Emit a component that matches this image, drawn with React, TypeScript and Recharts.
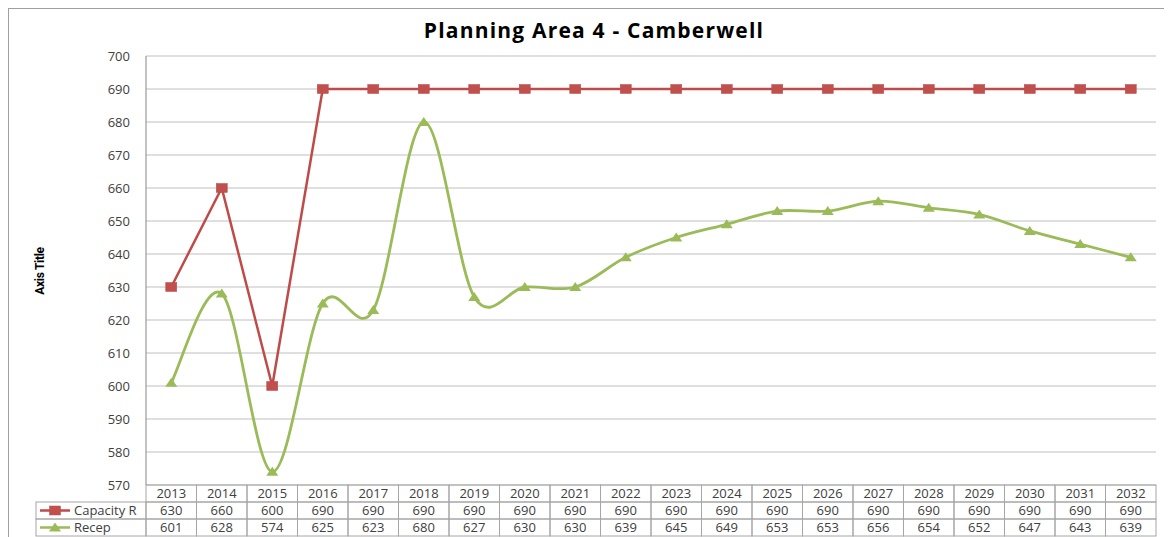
import React from 'react';
import { LineChart, Line, XAxis, YAxis, CartesianGrid } from 'recharts';

const years = ['2013', '2014', '2015', '2016', '2017', '2018', '2019', '2020', '2021', '2022', '2023', '2024', '2025', '2026', '2027', '2028', '2029', '2030', '2031', '2032'];
const capacity = [630, 660, 600, 690, 690, 690, 690, 690, 690, 690, 690, 690, 690, 690, 690, 690, 690, 690, 690, 690];
const recep = [601, 628, 574, 625, 623, 680, 627, 630, 630, 639, 645, 649, 653, 653, 656, 654, 652, 647, 643, 639];
const yTicks = [570, 580, 590, 600, 610, 620, 630, 640, 650, 660, 670, 680, 690, 700];
const seriesNames = ['Capacity R', 'Recep'];

const data = years.map((y, i) => ({ year: y, capacity: capacity[i], recep: recep[i] }));

const RED = '#BE4B48';
const RED_M = '#C0504D';
const GREEN = '#9BBB59';
const BORDER = '#A6A6A6';
const TEXT = '#404040';
const FONT = '"Open Sans", sans-serif';

const SVG_W = 1158;
const SVG_H = 530;
const MARGIN = { top: 47, right: 11, bottom: 3, left: 0 };
const Y_W = 137;
const PLOT_W = SVG_W - MARGIN.right - MARGIN.left - Y_W;
const BAND = PLOT_W / years.length;
const ROW_H = 17;
const LEG_W = 110;

// Excel-like smoothed line (uniform Catmull-Rom as cubic Bezier)
const excelCurve: any = (context: any) => {
  let pts: number[][] = [];
  return {
    areaStart() {},
    areaEnd() {},
    lineStart() {
      pts = [];
    },
    lineEnd() {
      const n = pts.length;
      if (!n) return;
      context.moveTo(pts[0][0], pts[0][1]);
      for (let i = 0; i < n - 1; i++) {
        const p0 = pts[Math.max(i - 1, 0)];
        const p1 = pts[i];
        const p2 = pts[i + 1];
        const p3 = pts[Math.min(i + 2, n - 1)];
        context.bezierCurveTo(
          p1[0] + (p2[0] - p0[0]) / 6,
          p1[1] + (p2[1] - p0[1]) / 6,
          p2[0] - (p3[0] - p1[0]) / 6,
          p2[1] - (p3[1] - p1[1]) / 6,
          p2[0],
          p2[1]
        );
      }
    },
    point(x: number, y: number) {
      pts.push([x, y]);
    },
  };
};

const Square = ({ cx, cy }: { cx: number; cy: number }) => (
  <rect x={cx - 5.5} y={cy - 4.5} width={11} height={9} fill={RED_M} stroke={RED} strokeWidth={0.5} />
);
const Triangle = ({ cx, cy }: { cx: number; cy: number }) => (
  <polygon points={`${cx},${cy - 5} ${cx + 6},${cy + 4} ${cx - 6},${cy + 4}`} fill={GREEN} />
);

const renderDotSquare = (p: any) => (p.cx == null ? null : <Square key={`s${p.index}`} cx={p.cx} cy={p.cy} />);
const renderDotTri = (p: any) => (p.cx == null ? null : <Triangle key={`t${p.index}`} cx={p.cx} cy={p.cy} />);

const renderTick = (props: any) => {
  const { x, y, index, payload } = props;
  const w = BAND;
  const left = x - w / 2;
  const i = index ?? payload.index;
  const textProps = { fontFamily: FONT, fontSize: 13, fill: TEXT, textAnchor: 'middle' as const };
  return (
    <g>
      <rect x={left} y={y} width={w} height={ROW_H} fill="none" stroke={BORDER} />
      <text x={x} y={y + 13} {...textProps}>{years[i]}</text>
      <rect x={left} y={y + ROW_H} width={w} height={ROW_H} fill="none" stroke={BORDER} />
      <text x={x} y={y + ROW_H + 13} {...textProps}>{capacity[i]}</text>
      <rect x={left} y={y + 2 * ROW_H} width={w} height={ROW_H} fill="none" stroke={BORDER} />
      <text x={x} y={y + 2 * ROW_H + 13} {...textProps}>{recep[i]}</text>
      {i === 0 && (
        <g>
          <rect x={left - LEG_W} y={y + ROW_H} width={LEG_W} height={ROW_H} fill="none" stroke={BORDER} />
          <line x1={left - LEG_W + 4} x2={left - LEG_W + 34} y1={y + ROW_H * 1.5} y2={y + ROW_H * 1.5} stroke={RED} strokeWidth={2.5} />
          <Square cx={left - LEG_W + 19} cy={y + ROW_H * 1.5} />
          <text x={left - LEG_W + 38} y={y + ROW_H + 13} fontFamily={FONT} fontSize={13} fill={TEXT}>{seriesNames[0]}</text>
          <rect x={left - LEG_W} y={y + 2 * ROW_H} width={LEG_W} height={ROW_H} fill="none" stroke={BORDER} />
          <line x1={left - LEG_W + 4} x2={left - LEG_W + 34} y1={y + ROW_H * 2.5} y2={y + ROW_H * 2.5} stroke={GREEN} strokeWidth={2.5} />
          <Triangle cx={left - LEG_W + 19} cy={y + ROW_H * 2.5} />
          <text x={left - LEG_W + 38} y={y + 2 * ROW_H + 13} fontFamily={FONT} fontSize={13} fill={TEXT}>{seriesNames[1]}</text>
        </g>
      )}
    </g>
  );
};

export default function App() {
  return (
    <div
      style={{
        position: 'relative',
        width: SVG_W,
        height: SVG_H,
        border: '1px solid #A0A0A0',
        background: '#fff',
      }}
    >
      <div
        style={{
          position: 'absolute',
          left: 6,
          top: 7,
          width: SVG_W,
          textAlign: 'center',
          fontFamily: FONT,
          fontWeight: 700,
          fontSize: 21,
          color: '#000',
          lineHeight: '28px',
          letterSpacing: '1.2px',
        }}
      >
        Planning Area 4 - Camberwell
      </div>
      <div
        style={{
          position: 'absolute',
          left: 31 - 40,
          top: 262 - 8,
          width: 80,
          height: 16,
          lineHeight: '16px',
          textAlign: 'center',
          transform: 'rotate(-90deg)',
          fontFamily: 'Roboto, sans-serif',
          fontWeight: 700,
          fontSize: 12,
          color: '#000',
          letterSpacing: '-0.3px',
        }}
      >
        Axis Title
      </div>
      <LineChart width={SVG_W} height={SVG_H} data={data} margin={MARGIN}>
        <CartesianGrid vertical={false} stroke="#BFBFBF" strokeWidth={1.2} />
        <XAxis
          dataKey="year"
          height={3 * ROW_H}
          interval={0}
          tickLine={false}
          axisLine={false}
          tickSize={0}
          tickMargin={0}
          padding={{ left: BAND / 2, right: BAND / 2 }}
          tick={renderTick}
        />
        <YAxis
          width={Y_W}
          domain={[570, 700]}
          ticks={yTicks}
          interval={0}
          tickLine={false}
          axisLine={{ stroke: '#868686' }}
          tickSize={0}
          tickMargin={16}
          tick={{ fontFamily: FONT, fontSize: 13, fill: TEXT }}
        />
        <Line
          type="linear"
          dataKey="capacity"
          stroke={RED}
          strokeWidth={2.5}
          dot={renderDotSquare}
          isAnimationActive={false}
        />
        <Line
          type={excelCurve}
          dataKey="recep"
          stroke={GREEN}
          strokeWidth={2.8}
          dot={renderDotTri}
          isAnimationActive={false}
        />
      </LineChart>
    </div>
  );
}
